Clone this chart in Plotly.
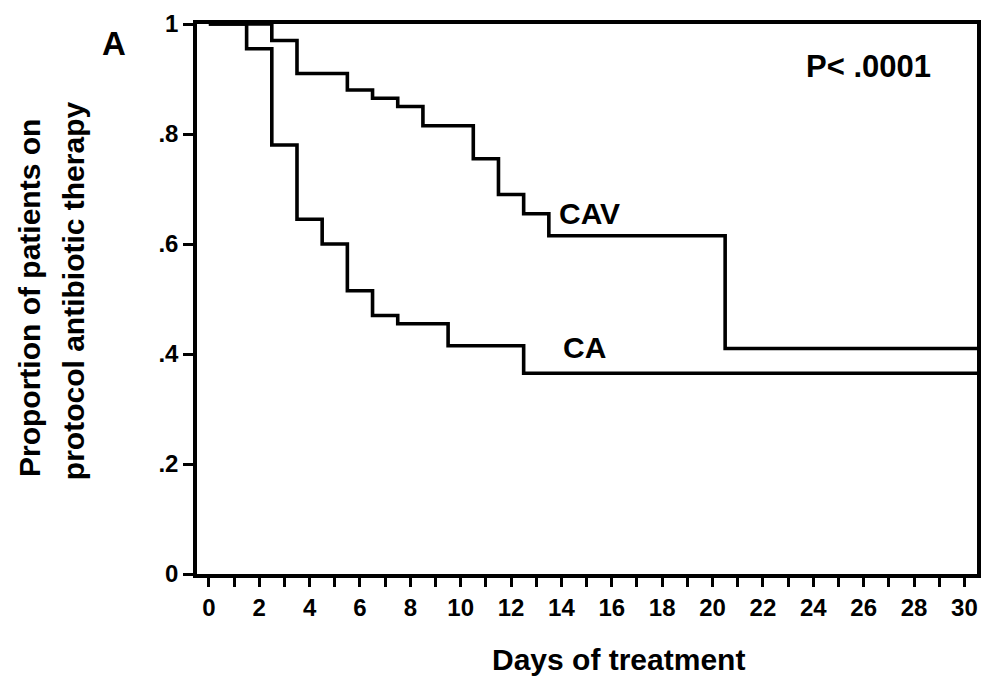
import plotly.graph_objects as go

# Kaplan-Meier step estimates (days of treatment vs. proportion still on protocol therapy)
ca_days = [0, 1.5, 2.5, 3.5, 4.5, 5.5, 6.5, 7.5, 9.5, 12.5, 30.5]
ca_prop = [1.0, 0.955, 0.78, 0.645, 0.60, 0.515, 0.47, 0.455, 0.415, 0.365, 0.365]

cav_days = [0, 2.5, 3.5, 5.5, 6.5, 7.5, 8.5, 10.5, 11.5, 12.5, 13.5, 20.5, 30.5]
cav_prop = [1.0, 0.97, 0.91, 0.88, 0.865, 0.85, 0.815, 0.755, 0.69, 0.655, 0.615, 0.41, 0.41]

x_ticks = list(range(0, 31, 2))
y_ticks = [0, 0.2, 0.4, 0.6, 0.8, 1.0]
y_tick_text = ["0", ".2", ".4", ".6", ".8", "1"]

FONT = "Liberation Sans, Arial, sans-serif"
line_style = dict(color="black", width=3.6, shape="hv")

fig = go.Figure()
fig.add_trace(go.Scatter(x=ca_days, y=ca_prop, mode="lines", line=line_style, name="CA"))
fig.add_trace(go.Scatter(x=cav_days, y=cav_prop, mode="lines", line=line_style, name="CAV"))

fig.update_layout(
    width=988, height=676,
    margin=dict(l=197, r=7, t=24, b=102),
    paper_bgcolor="white", plot_bgcolor="white",
    showlegend=False,
    font=dict(family=FONT, color="black"),
)

fig.update_xaxes(
    range=[-0.47, 30.5],
    tickvals=x_ticks,
    ticktext=[f"<b>{v}</b>" for v in x_ticks],
    ticks="outside", ticklen=9, tickwidth=3, tickcolor="black",
    minor=dict(dtick=1, tick0=0, ticks="outside", ticklen=9, tickwidth=3, tickcolor="black"),
    showline=True, linecolor="black", linewidth=3.5, mirror=True,
    showgrid=False, zeroline=False,
    tickfont=dict(size=24, family=FONT, color="black"),
)

fig.update_yaxes(
    range=[0, 1],
    tickvals=y_ticks, ticktext=[f"<b>{t}</b>" for t in y_tick_text],
    ticks="outside", ticklen=10, tickwidth=2.5, tickcolor="black",
    showline=True, linecolor="black", linewidth=3.5, mirror=True,
    showgrid=False, zeroline=False,
    tickfont=dict(size=24, family=FONT, color="black"),
)

text_font = dict(size=30, family=FONT)
annotations = [
    # curve labels and test result
    dict(x=15.1, y=0.656, xref="x", yref="y", text="<b>CAV</b>", showarrow=False,
         xanchor="center", yanchor="middle", font=text_font),
    dict(x=14.9, y=0.411, xref="x", yref="y", text="<b>CA</b>", showarrow=False,
         xanchor="center", yanchor="middle", font=text_font),
    dict(x=26.2, y=0.922, xref="x", yref="y", text="<b>P< .0001</b>", showarrow=False,
         xanchor="center", yanchor="middle", font=dict(size=31, family=FONT)),
    # panel letter
    dict(x=-0.106, y=0.964, xref="paper", yref="paper", text="<b>A</b>", showarrow=False,
         xanchor="center", yanchor="middle", font=dict(size=33, family=FONT)),
    # y-axis title, two rotated lines
    dict(x=-0.214, y=0.502, xref="paper", yref="paper", text="<b>Proportion of patients on</b>",
         showarrow=False, textangle=-90, xanchor="center", yanchor="middle", font=text_font),
    dict(x=-0.159, y=0.516, xref="paper", yref="paper", text="<b>protocol antibiotic therapy</b>",
         showarrow=False, textangle=-90, xanchor="center", yanchor="middle", font=text_font),
    # x-axis title
    dict(x=0.541, y=-0.156, xref="paper", yref="paper", text="<b>Days of treatment</b>",
         showarrow=False, xanchor="center", yanchor="middle", font=text_font),
]
fig.update_layout(annotations=annotations)

fig.write_html("out.html")
